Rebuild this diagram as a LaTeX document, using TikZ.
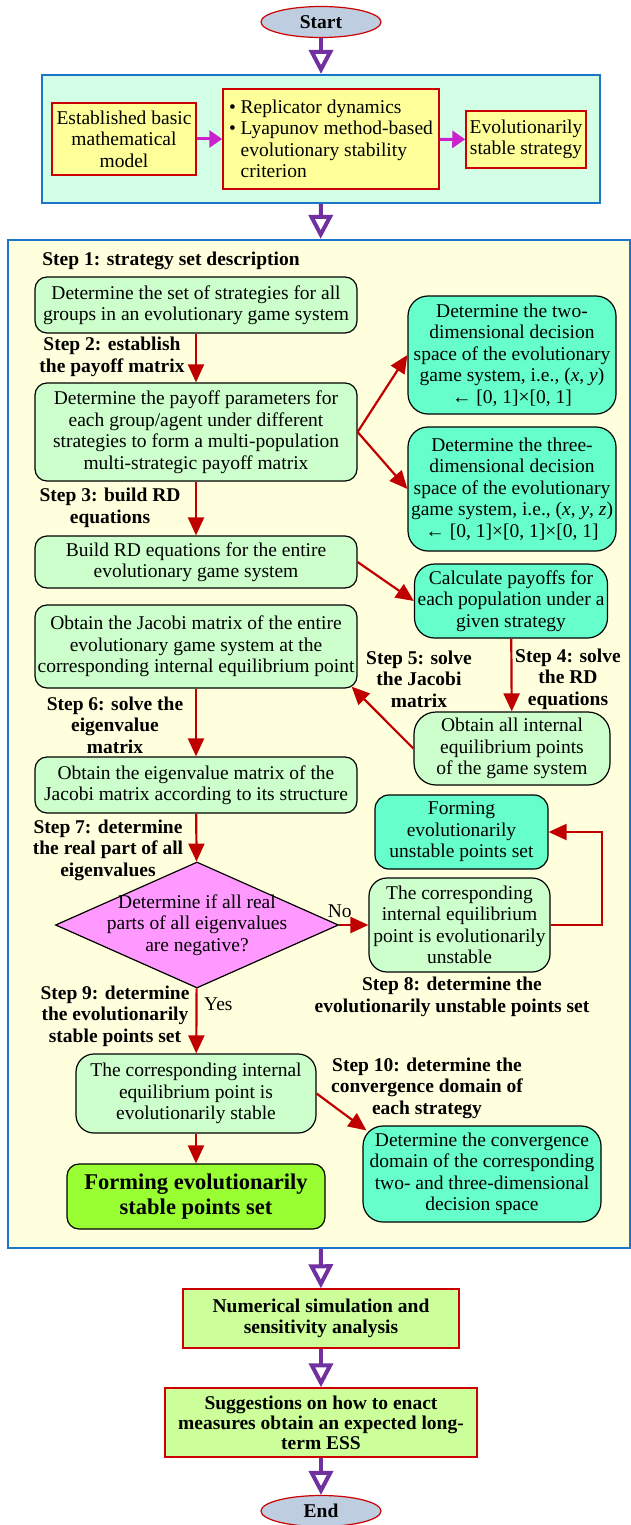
\documentclass[tikz,border=0pt]{standalone}
\usepackage{fontspec}
\setmainfont{Liberation Serif}
\usepackage{xcolor}
\usetikzlibrary{arrows.meta, positioning, shapes.geometric}

\definecolor{termfill}{HTML}{BFCDE0}
\definecolor{redline}{HTML}{CC0000}
\definecolor{flowred}{HTML}{C00000}
\definecolor{purpleflow}{HTML}{7030A0}
\definecolor{magflow}{HTML}{CC22CC}
\definecolor{frameblue}{HTML}{1C75C8}
\definecolor{stagefill}{HTML}{D2FFE6}
\definecolor{mainfill}{HTML}{FFFFDD}
\definecolor{yellowfill}{HTML}{FFFF99}
\definecolor{greenfill}{HTML}{CCFFCC}
\definecolor{tealfill}{HTML}{66FFCC}
\definecolor{pinkfill}{HTML}{FF99FF}
\definecolor{limefill}{HTML}{99FF33}
\definecolor{palelime}{HTML}{CCFF99}

\begin{document}
\fontsize{19.5}{21.5}\selectfont
\begin{tikzpicture}[
        x=1pt, y=-1pt,
        terminal/.style={ellipse, draw=redline, line width=1.2pt, fill=termfill, font=\bfseries, minimum width=120, minimum height=31, inner sep=0pt},
        panel/.style={rectangle, draw=frameblue, line width=2.2pt, inner sep=0pt},
        ybox/.style={rectangle, draw=redline, line width=1.5pt, fill=yellowfill, align=center, inner sep=1pt},
        stepbox/.style={rectangle, rounded corners=12pt, draw=black, line width=1.2pt, fill=greenfill, align=center, inner sep=1pt},
        domainbox/.style={stepbox, fill=tealfill, rounded corners=20pt},
        decision/.style={diamond, draw=black, line width=1.2pt, fill=pinkfill, align=center, shape aspect=2.25, inner sep=-8pt, minimum width=283, minimum height=126},
        result/.style={rectangle, draw=redline, line width=1.5pt, fill=palelime, align=center, font=\bfseries, inner sep=1pt},
        steplabel/.style={align=center, font=\bfseries, inner sep=0pt},
        flow/.style={-{Triangle[length=18pt, width=16pt]}, line width=2.2pt, flowred},
        bigflow/.style={-{Triangle[open, length=24pt, width=24pt]}, line width=4pt, purpleflow},
        sideflow/.style={-{Triangle[length=13pt, width=17pt]}, line width=3pt, magflow}
    ]
        \useasboundingbox (0,0) rectangle (630,1525);
        % background panels
        \node[panel, fill=stagefill, minimum width=558, minimum height=128] (stage) at (321,139) {};
        \node[panel, fill=mainfill, minimum width=622, minimum height=1008] (core) at (319,744) {};

        \node[terminal] (start) at (321,22) {Start};
        \node[ybox, minimum width=144, minimum height=72] (model) at (124,139) {Established basic\\mathematical\\model};
        \node[ybox, minimum width=216, minimum height=100, align=left] (theory) at (331,139) {\textbullet\ Replicator dynamics\\\textbullet\ Lyapunov method-based\\\hphantom{\textbullet\ }evolutionary stability\\\hphantom{\textbullet\ }criterion};
        \node[ybox, minimum width=120, minimum height=57] (ess) at (526,139.5) {Evolutionarily\\stable strategy};

        % steps 1 to 5
        \node[steplabel] (s1) at (171,261) {Step 1: strategy set description};
        \node[stepbox, minimum width=322, minimum height=56] (sets) at (196,305) {Determine the set of strategies for all\\groups in an evolutionary game system};
        \node[steplabel] (s2) at (112,357) {Step 2: establish\\the payoff matrix};
        \node[stepbox, minimum width=322, minimum height=98] (payoff) at (196,432) {Determine the payoff parameters for\\each group/agent under different\\strategies to form a multi-population\\multi-strategic payoff matrix};
        \node[domainbox, minimum width=208, minimum height=118] (twodim) at (512,355) {Determine the two-\\dimensional decision\\space of the evolutionary\\game system, i.e., (\textit{x}, \textit{y})\\← [0, 1]×[0, 1]};
        \node[domainbox, minimum width=208, minimum height=124] (threedim) at (512,489) {Determine the three-\\dimensional decision\\space of the evolutionary\\game system, i.e., (\textit{x}, \textit{y}, \textit{z})\\← [0, 1]×[0, 1]×[0, 1]};
        \node[steplabel] (s3) at (110,508) {Step 3: build RD\\equations};
        \node[stepbox, minimum width=322, minimum height=52] (rd) at (196,562) {Build RD equations for the entire\\evolutionary game system};
        \node[domainbox, minimum width=193, minimum height=74] (payoffs) at (511,601) {Calculate payoffs for\\each population under a\\given strategy};
        \node[stepbox, minimum width=322, minimum height=83] (jacobi) at (196,646.5) {Obtain the Jacobi matrix of the entire\\evolutionary game system at the\\corresponding internal equilibrium point};
        \node[steplabel] (s5) at (419,679) {Step 5: solve\\the Jacobi\\matrix};
        \node[steplabel] (s4) at (568,679) {Step 4: solve\\the RD\\equations};
        \node[stepbox, rounded corners=22pt, minimum width=196, minimum height=73] (equil) at (512,748.5) {Obtain all internal\\equilibrium points\\of the game system};

        % steps 6 to 10
        \node[steplabel] (s6) at (115,725) {Step 6: solve the\\eigenvalue\\matrix};
        \node[stepbox, minimum width=322, minimum height=56] (eigen) at (196,785) {Obtain the eigenvalue matrix of the\\Jacobi matrix according to its structure};
        \node[domainbox, rounded corners=14pt, minimum width=173, minimum height=74] (unstableset) at (461.5,832) {Forming\\evolutionarily\\unstable points set};
        \node[steplabel] (s7) at (108,850) {Step 7: determine\\the real part of all\\eigenvalues};
        \node[decision] (check) at (197,925) {Determine if all real\\parts of all eigenvalues\\are negative?};
        \node[stepbox, rounded corners=18pt, minimum width=181, minimum height=94] (unstable) at (459.5,925) {The corresponding\\internal equilibrium\\point is evolutionarily\\unstable};
        \node[steplabel] (s8) at (452,997) {Step 8: determine the\\evolutionarily unstable points set};
        \node[steplabel] (s9) at (115,1016) {Step 9: determine\\the evolutionarily\\stable points set};
        \node[stepbox, rounded corners=18pt, minimum width=240, minimum height=79] (stable) at (196,1093.5) {The corresponding internal\\equilibrium point is\\evolutionarily stable};
        \node[steplabel] (s10) at (427,1088) {Step 10: determine the\\convergence domain of\\each strategy};
        \node[domainbox, minimum width=238, minimum height=96] (convergence) at (482,1174) {Determine the convergence\\domain of the corresponding\\two- and three-dimensional\\decision space};
        \node[stepbox, fill=limefill, minimum width=258, minimum height=65, font=\fontsize{22.5}{25}\selectfont\bfseries] (stableset) at (196,1196.5) {Forming evolutionarily\\stable points set};

        \node[result, minimum width=276, minimum height=59] (numsim) at (321,1318.5) {Numerical simulation and\\sensitivity analysis};
        \node[result, minimum width=312, minimum height=69, font=\fontsize{19.5}{20}\selectfont\bfseries] (suggest) at (321,1422.5) {Suggestions on how to enact\\measures obtain an expected long-\\term ESS};
        \node[terminal] (end) at (321,1511) {End};

        % main flow
        \draw[bigflow] (start) -- (stage);
        \draw[bigflow] (stage) -- (core);
        \draw[bigflow] (core) -- (numsim);
        \draw[bigflow] (numsim) -- (suggest);
        \draw[bigflow] (suggest) -- (end);
        \draw[sideflow] (model) -- (theory);
        \draw[sideflow] (theory) -- (ess);

        % steps
        \draw[flow] (sets) -- (payoff);
        \draw[flow] (payoff.east) -- (twodim.west);
        \draw[flow] (payoff.east) -- (threedim.west);
        \draw[flow] (payoff) -- (rd);
        \draw[flow] (rd.east) -- (payoffs.west);
        \draw[flow] (payoffs) -- (equil);
        \draw[flow] (equil.west) -- ([xshift=-6pt, yshift=2pt]jacobi.south east);
        \draw[flow] (jacobi) -- (eigen);
        \draw[flow] (eigen) -- (check);
        \draw[flow] (check) -- node[above, pos=0.02, black]{No} (unstable);
        \draw[flow] (unstable.east) -- ++(51,0) |- (unstableset.east);
        \draw[flow] (check) -- node[right, pos=0.25, black]{Yes} (stable);
        \draw[flow] (stable.east) -- ([xshift=4pt, yshift=-5pt]convergence.north west);
        \draw[flow] (stable) -- (stableset);
\end{tikzpicture}
\end{document}
